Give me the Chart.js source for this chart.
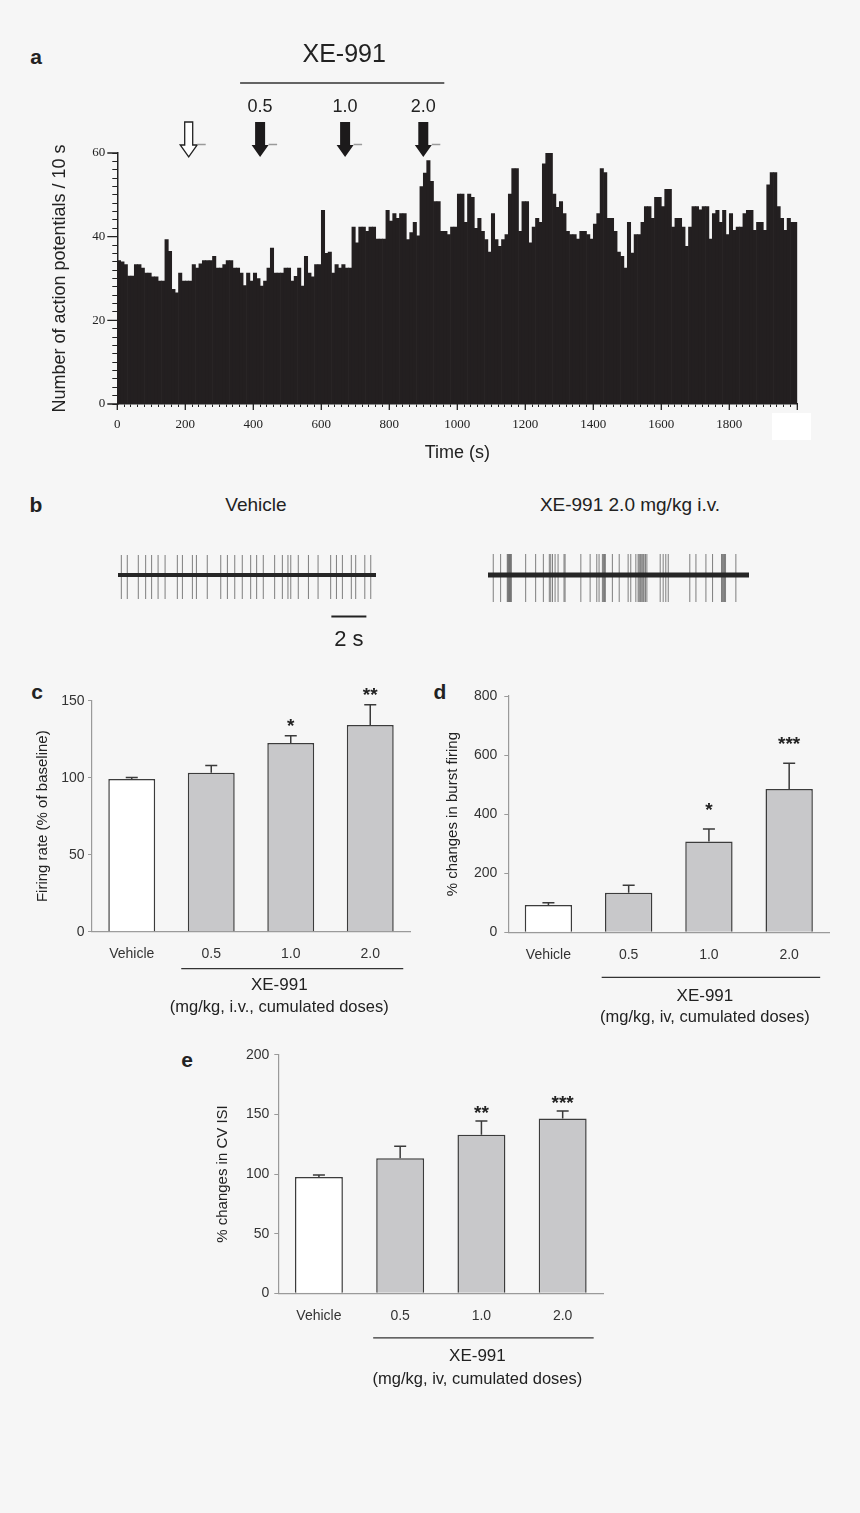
<!DOCTYPE html>
<html>
<head>
<meta charset="utf-8">
<script src="https://cdn.jsdelivr.net/npm/chart.js@4.4.1/dist/chart.umd.min.js"></script>
<style>
  html, body { margin: 0; padding: 0; background: #f6f6f6; }
  body { width: 860px; height: 1513px; position: relative; overflow: hidden;
         font-family: "Liberation Sans", Arial, sans-serif; color: #222; }
  canvas { position: absolute; }
  .lbl { position: absolute; transform: translate(-50%, -50%); white-space: nowrap; }
  .tag { font-weight: bold; font-size: 21px; }
  .cond { font-size: 19px; }
</style>
</head>
<body>
<div class="lbl tag" style="left:36px;top:57px">a</div>
<div class="lbl tag" style="left:36px;top:505px">b</div>
<div class="lbl cond" style="left:256px;top:505px">Vehicle</div>
<div class="lbl cond" style="left:630px;top:505px">XE-991 2.0 mg/kg i.v.</div>
<div class="lbl tag" style="left:37px;top:692px">c</div>
<div class="lbl tag" style="left:440px;top:692px">d</div>
<div class="lbl tag" style="left:187px;top:1060px">e</div>

<canvas id="hist" width="775" height="448" style="left:45px;top:20px"></canvas>
<div style="position:absolute;left:772px;top:413px;width:39px;height:27px;background:#fff"></div>
<canvas id="traceVeh" width="258" height="110" style="left:118px;top:545px"></canvas>
<canvas id="traceXe" width="261" height="62" style="left:488px;top:545px"></canvas>
<canvas id="firing" width="400" height="350" style="left:30px;top:680px"></canvas>
<canvas id="burst" width="410" height="350" style="left:440px;top:680px"></canvas>
<canvas id="cvisi" width="420" height="350" style="left:210px;top:1040px"></canvas>

<script>
// --- panel a: firing histogram, 10 s bins ---
const binSeconds = 10;
const spikeCounts = [
  34.3, 34.0, 33.3, 30.6, 30.6, 33.3, 33.3, 32.5, 31.3, 31.3,
  30.4, 30.4, 29.4, 29.4, 39.3, 36.5, 27.4, 26.6, 31.3, 29.4,
  29.4, 29.4, 33.3, 32.5, 33.5, 34.3, 34.3, 34.3, 35.3, 32.5,
  32.5, 33.3, 34.3, 34.3, 32.5, 32.5, 31.3, 28.3, 31.3, 29.4,
  31.3, 30.0, 28.2, 29.4, 32.5, 37.3, 31.3, 31.3, 31.3, 32.5,
  32.5, 29.4, 30.5, 32.5, 28.2, 35.3, 31.3, 30.4, 33.3, 33.3,
  46.3, 36.0, 36.3, 31.3, 33.3, 32.5, 33.3, 32.5, 32.5, 42.3,
  38.5, 42.3, 42.3, 41.3, 42.3, 42.3, 39.4, 39.4, 39.4, 46.3,
  43.7, 45.5, 44.4, 45.5, 45.5, 39.3, 41.0, 43.4, 40.2, 52.0,
  55.2, 58.2, 53.2, 48.4, 48.4, 41.3, 41.3, 40.5, 42.3, 42.3,
  50.2, 50.2, 43.4, 50.2, 49.4, 42.0, 44.4, 41.3, 39.3, 36.3,
  45.5, 39.3, 37.7, 39.3, 40.5, 50.2, 56.3, 56.3, 41.3, 48.4,
  48.4, 38.5, 42.3, 44.4, 43.4, 57.4, 60.3, 60.3, 50.2, 47.0,
  48.4, 45.5, 41.3, 40.5, 40.5, 39.4, 41.3, 41.3, 40.5, 39.4,
  43.0, 45.5, 56.3, 55.3, 44.4, 44.4, 41.3, 36.3, 35.3, 32.5,
  43.4, 36.1, 40.5, 40.5, 43.4, 47.2, 47.2, 44.4, 49.4, 49.4,
  47.2, 51.3, 51.3, 42.3, 44.4, 44.4, 42.3, 37.7, 42.3, 47.2,
  47.2, 46.4, 47.2, 47.2, 39.4, 45.5, 46.3, 43.4, 46.3, 40.5,
  45.5, 41.5, 42.3, 42.3, 45.5, 46.3, 46.3, 41.5, 43.4, 43.4,
  41.5, 52.4, 55.3, 55.3, 47.2, 44.4, 41.5, 44.4, 43.4, 43.4
];
const histYLabels = [0, 20, 40, 60];
const histXLabels = [0, 200, 400, 600, 800, 1000, 1200, 1400, 1600, 1800];
const injectionTimes = [210, 420, 670, 900];
const injectionDoses = ["", "0.5", "1.0", "2.0"];

// --- panel b: example traces (spike times in s) ---
const vehicleSpikes = [0.19, 0.53, 1.16, 1.58, 1.92, 2.29, 2.69, 3.39, 3.68, 4.25, 4.48, 5.10,
  5.87, 6.25, 6.67, 7.10, 7.58, 7.92, 8.30, 8.95, 9.39, 9.71, 9.87, 10.30, 10.88, 11.43,
  12.15, 12.48, 12.82, 13.33, 13.58, 14.10, 14.44];
const xeSpikes = [0.30, 0.72, 1.10, 1.14, 1.18, 1.22, 1.26, 1.30, 1.33, 2.15, 2.72, 3.16,
  3.50, 3.58, 3.68, 3.83, 4.00, 4.34, 4.40, 5.30, 5.83, 6.21, 6.34, 6.53, 6.59, 6.65, 6.70,
  7.10, 7.49, 8.00, 8.15, 8.44, 8.57, 8.63, 8.69, 8.74, 8.80, 8.86, 8.91, 8.99, 9.07, 9.83,
  10.00, 10.15, 10.29, 11.52, 11.87, 12.44, 12.82, 13.33, 13.39, 13.45, 13.50, 13.56, 14.15];
const vehicleSpikeRange = [-24, 20];
const xeSpikeRange = [-27, 21];
const scaleBarSeconds = 2;

// --- panels c, d, e ---
const doseLabels = ["Vehicle", "0.5", "1.0", "2.0"];
const firingRate = [99.1, 103.2, 122.5, 134.2];
const firingRateSem = [1.1, 4.8, 4.8, 13.2];
const firingStars = ["", "", "*", "**"];
const burstFiring = [92.5, 134, 307, 485];
const burstFiringSem = [7.5, 25, 43, 87];
const burstStars = ["", "", "*", "***"];
const cvIsi = [97.5, 113.1, 133.0, 146.6];
const cvIsiSem = [1.7, 10.1, 11.4, 6.2];
const cvIsiStars = ["", "", "**", "***"];

Chart.defaults.font.family = "'Liberation Sans', Arial, sans-serif";
Chart.defaults.color = "#222";
Chart.defaults.animation = false;
Chart.defaults.plugins.legend.display = false;
Chart.defaults.plugins.tooltip.enabled = false;

const INK = "#222";

// long major ticks on the histogram axes
const histMajorTicks = {
  id: "histMajorTicks",
  afterDraw(chart) {
    const { ctx, chartArea: ca, scales: { x, y } } = chart;
    ctx.save();
    ctx.strokeStyle = INK;
    ctx.lineWidth = 1.3;
    ctx.beginPath();
    histYLabels.forEach((v) => {
      const py = y.getPixelForValue(v);
      ctx.moveTo(ca.left - 10, py);
      ctx.lineTo(ca.left, py);
    });
    for (let t = x.min; t <= x.max; t += 200) {
      const px = x.getPixelForValue(t);
      ctx.moveTo(px, ca.bottom);
      ctx.lineTo(px, ca.bottom + 6);
    }
    ctx.stroke();
    ctx.restore();
  },
};

function drawArrow(ctx, x, top, open) {
  const sw = open ? 4 : 5;
  ctx.beginPath();
  ctx.moveTo(x - sw, top - 31);
  ctx.lineTo(x + sw, top - 31);
  ctx.lineTo(x + sw, top - 8);
  ctx.lineTo(x + 8.5, top - 8);
  ctx.lineTo(x, top + 4);
  ctx.lineTo(x - 8.5, top - 8);
  ctx.lineTo(x - sw, top - 8);
  ctx.closePath();
  if (open) {
    ctx.fillStyle = "#fff";
    ctx.fill();
    ctx.lineWidth = 1.3;
    ctx.strokeStyle = INK;
    ctx.stroke();
  } else {
    ctx.fillStyle = "#1c1a1b";
    ctx.fill();
  }
}

// injection arrows, doses and the XE-991 bracket
const doseArrows = {
  id: "doseArrows",
  afterDraw(chart) {
    const { ctx, chartArea: ca, scales: { x } } = chart;
    const top = ca.top;
    ctx.save();
    const xs = injectionTimes.map((t) => x.getPixelForValue(t));
    xs.forEach((px, i) => {
      drawArrow(ctx, px, top, i === 0);
      ctx.strokeStyle = "#9a9a9a";
      ctx.lineWidth = 1.5;
      ctx.beginPath();
      ctx.moveTo(px + 8.5, top - 8.5);
      ctx.lineTo(px + 17, top - 8.5);
      ctx.stroke();
      if (injectionDoses[i]) {
        ctx.fillStyle = INK;
        ctx.font = "18px 'Liberation Sans', Arial";
        ctx.textAlign = "center";
        ctx.textBaseline = "middle";
        ctx.fillText(injectionDoses[i], px, top - 46);
      }
    });
    const x1 = xs[1] - 20, x2 = xs[3] + 21;
    ctx.strokeStyle = "#333";
    ctx.lineWidth = 1.5;
    ctx.beginPath();
    ctx.moveTo(x1, top - 70);
    ctx.lineTo(x2, top - 70);
    ctx.stroke();
    ctx.fillStyle = INK;
    ctx.font = "25px 'Liberation Sans', Arial";
    ctx.textAlign = "center";
    ctx.textBaseline = "middle";
    ctx.fillText("XE-991", (x1 + x2) / 2 + 2, top - 98);
    ctx.restore();
  },
};

new Chart(document.getElementById("hist"), {
  type: "bar",
  data: {
    datasets: [{
      data: spikeCounts.map((v, i) => ({ x: i * binSeconds + binSeconds / 2, y: v })),
      backgroundColor: "#231f20",
      borderWidth: 0,
      barPercentage: 1,
      categoryPercentage: 1,
    }],
  },
  options: {
    responsive: false,
    layout: { padding: { top: 133, right: 22.7, left: 0, bottom: 0 } },
    scales: {
      x: {
        type: "linear", min: 0, max: 2000, offset: false,
        grid: { drawOnChartArea: false, offset: false, tickLength: 3, tickColor: INK, tickWidth: 1 },
        border: { color: INK, width: 1.5 },
        ticks: {
          stepSize: 20, autoSkip: false, maxRotation: 0, padding: 10, color: INK,
          font: { family: "'Liberation Serif', 'Times New Roman', serif", size: 13 },
          callback: (v) => (histXLabels.includes(Math.round(v)) ? Math.round(v) : ""),
        },
        title: { display: true, text: "Time (s)", font: { size: 18 }, color: INK },
        afterFit: (s) => { s.height = 64; },
      },
      y: {
        min: 0, max: 60,
        grid: { drawOnChartArea: false, tickLength: 5, tickColor: INK, tickWidth: 1 },
        border: { color: INK, width: 1.5 },
        ticks: {
          stepSize: 2, autoSkip: false, padding: 7, color: INK,
          font: { family: "'Liberation Serif', 'Times New Roman', serif", size: 13 },
          callback: (v) => (histYLabels.includes(Math.round(v)) ? Math.round(v) : ""),
        },
        title: { display: true, text: "Number of action potentials / 10 s", font: { size: 18 }, color: INK },
        afterFit: (s) => { s.width = 72.3; },
      },
    },
  },
  plugins: [histMajorTicks, doseArrows],
});

// --- traces ---
const scaleBar = {
  id: "scaleBar",
  afterDraw(chart, args, opts) {
    if (!opts.show) return;
    const { ctx, chartArea: ca, scales: { x } } = chart;
    const x2 = x.getPixelForValue(x.max - 0.55);
    const x1 = x.getPixelForValue(x.max - 0.55 - scaleBarSeconds);
    ctx.save();
    ctx.strokeStyle = INK;
    ctx.lineWidth = 2;
    ctx.beginPath();
    ctx.moveTo(x1, ca.bottom + 9.5);
    ctx.lineTo(x2, ca.bottom + 9.5);
    ctx.stroke();
    ctx.fillStyle = INK;
    ctx.font = "22px 'Liberation Sans', Arial";
    ctx.textAlign = "center";
    ctx.textBaseline = "middle";
    ctx.fillText(scaleBarSeconds + " s", (x1 + x2) / 2, ca.bottom + 33);
    ctx.restore();
  },
};

function traceChart(id, spikes, range, length, lineWidth, padBottom, showBar) {
  return new Chart(document.getElementById(id), {
    type: "bar",
    data: {
      datasets: [
        {
          type: "line",
          data: [{ x: 0, y: 0 }, { x: length, y: 0 }],
          borderColor: "#262626",
          borderWidth: lineWidth,
          pointRadius: 0,
        },
        {
          data: spikes.map((t) => ({ x: t, y: range })),
          backgroundColor: "rgba(75,75,75,0.7)",
          barThickness: 1,
          inflateAmount: 0,
        },
      ],
    },
    options: {
      responsive: false,
      layout: { padding: { top: 0, left: 0, right: 0, bottom: padBottom } },
      plugins: { scaleBar: { show: showBar } },
      scales: {
        x: { type: "linear", min: 0, max: length, offset: false, display: false },
        y: { min: -32, max: 30, display: false },
      },
    },
    plugins: [scaleBar],
  });
}

traceChart("traceVeh", vehicleSpikes, vehicleSpikeRange, 14.74, 4, 48, true);
traceChart("traceXe", xeSpikes, xeSpikeRange, 14.9, 5, 0, false);

// --- bar panels with SEM, stars and the dose bracket ---
const barExtras = {
  id: "barExtras",
  afterDatasetsDraw(chart, args, o) {
    const { ctx, chartArea: ca, scales: { x, y } } = chart;
    const meta = chart.getDatasetMeta(0);
    ctx.save();
    ctx.strokeStyle = "#3a3a3a";
    ctx.lineWidth = 1.5;
    o.values.forEach((v, i) => {
      const px = meta.data[i].x;
      const y0 = y.getPixelForValue(v);
      const y1 = y.getPixelForValue(v + o.sems[i]);
      ctx.beginPath();
      ctx.moveTo(px, y0);
      ctx.lineTo(px, y1);
      ctx.moveTo(px - 6, y1);
      ctx.lineTo(px + 6, y1);
      ctx.stroke();
      if (o.stars[i]) {
        ctx.fillStyle = INK;
        ctx.font = "bold 19px 'Liberation Sans', Arial";
        ctx.textAlign = "center";
        ctx.textBaseline = "alphabetic";
        ctx.fillText(o.stars[i], px, y1 - o.starGap + 12);
      }
    });
    // bracket under the XE-991 doses
    const x1 = x.getPixelForValue(1) + o.bracket[0];
    const x2 = x.getPixelForValue(3) + o.bracket[1];
    const by = ca.bottom + o.rows[0];
    ctx.strokeStyle = "#333";
    ctx.lineWidth = 1.3;
    ctx.beginPath();
    ctx.moveTo(x1, by);
    ctx.lineTo(x2, by);
    ctx.stroke();
    const cx = (x1 + x2) / 2 + o.textShift;
    ctx.fillStyle = INK;
    ctx.textAlign = "center";
    ctx.textBaseline = "middle";
    ctx.font = "17px 'Liberation Sans', Arial";
    ctx.fillText("XE-991", cx, ca.bottom + o.rows[1]);
    ctx.font = "16.5px 'Liberation Sans', Arial";
    ctx.fillText(o.note, cx, ca.bottom + o.rows[2]);
    ctx.restore();
  },
};

function barPanel(id, values, sems, stars, cfg) {
  return new Chart(document.getElementById(id), {
    type: "bar",
    data: {
      labels: doseLabels,
      datasets: [{
        data: values,
        backgroundColor: ["#ffffff", "#c8c8ca", "#c8c8ca", "#c8c8ca"],
        borderColor: "#3c3c3c",
        borderWidth: 1.5,
        barPercentage: 0.59,
        categoryPercentage: 1,
      }],
    },
    options: {
      responsive: false,
      layout: { padding: { top: cfg.padTop, right: cfg.padRight, bottom: cfg.padBottom, left: 0 } },
      plugins: {
        barExtras: {
          values, sems, stars, starGap: cfg.starGap, note: cfg.note,
          bracket: cfg.bracket, rows: cfg.rows, textShift: cfg.textShift,
        },
      },
      scales: {
        x: {
          grid: { display: false },
          border: { color: "#9a9a9a", width: 1.2 },
          ticks: { padding: 6, font: { size: 14 }, color: "#333" },
          afterFit: (s) => { s.height = 35; },
        },
        y: {
          min: 0, max: cfg.yMax,
          grid: { drawOnChartArea: false, tickLength: 4, tickColor: "#9a9a9a" },
          border: { color: "#9a9a9a", width: 1.2 },
          ticks: { stepSize: cfg.yStep, padding: cfg.tickPad, font: { size: 14 }, color: "#333" },
          title: { display: true, text: cfg.yTitle, font: { size: 15 }, color: INK },
          afterFit: (s) => { s.width = cfg.yWidth; },
        },
      },
    },
    plugins: [barExtras],
  });
}

barPanel("firing", firingRate, firingRateSem, firingStars, {
  yMax: 150, yStep: 50, yTitle: "Firing rate (% of baseline)",
  note: "(mg/kg, i.v., cumulated doses)",
  yWidth: 62, padTop: 20.7, padRight: 20, padBottom: 63.3, tickPad: 3.5,
  starGap: 15.5, bracket: [-30, 33], rows: [37, 54, 76], textShift: -13,
});

barPanel("burst", burstFiring, burstFiringSem, burstStars, {
  yMax: 800, yStep: 200, yTitle: "% changes in burst firing",
  note: "(mg/kg, iv, cumulated doses)",
  yWidth: 68.3, padTop: 16, padRight: 20.7, padBottom: 62.7, tickPad: 7,
  starGap: 25, bracket: [-27, 31], rows: [45, 64, 85.5], textShift: -6,
});

barPanel("cvisi", cvIsi, cvIsiSem, cvIsiStars, {
  yMax: 200, yStep: 50, yTitle: "% changes in CV ISI",
  note: "(mg/kg, iv, cumulated doses)",
  yWidth: 68.3, padTop: 14.7, padRight: 26.7, padBottom: 61.7, tickPad: 5,
  starGap: 14.5, bracket: [-27, 31], rows: [44.5, 63, 86], textShift: -6,
});
</script>
</body>
</html>
